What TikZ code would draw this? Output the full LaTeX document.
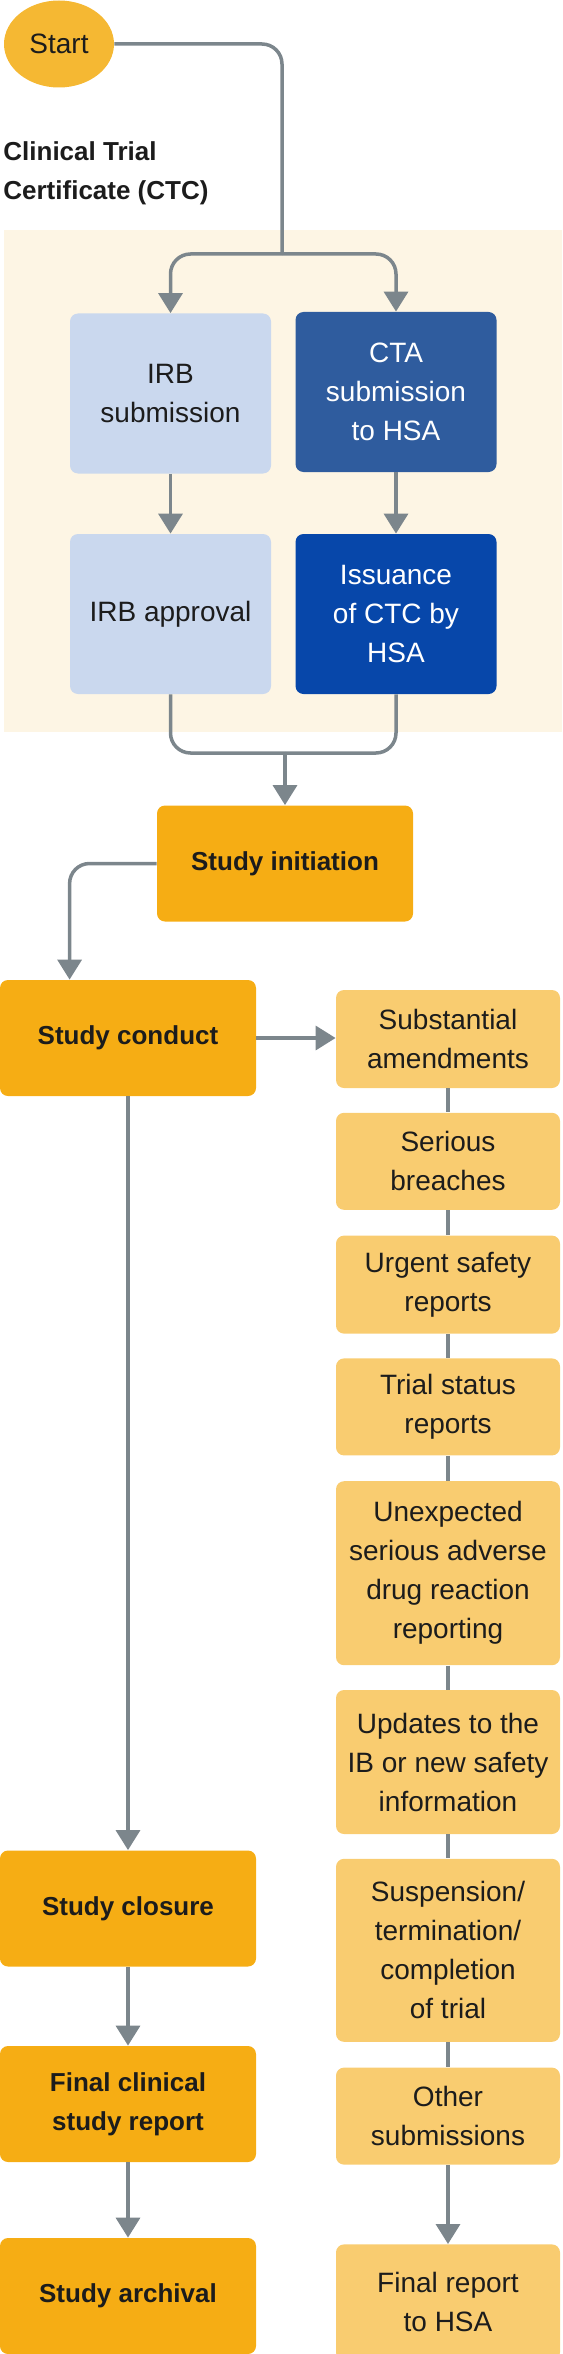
\documentclass[tikz,border=0pt]{standalone}
\usepackage{fontspec}
\setmainfont{Liberation Sans}
\usetikzlibrary{positioning}
\usetikzlibrary{shapes.geometric}
\usetikzlibrary{arrows.meta}
\definecolor{text colour}{HTML}{1C1C1C}
\definecolor{line colour}{HTML}{7C868C}
\definecolor{start colour}{HTML}{F5B833}
\definecolor{stage colour}{HTML}{F6AD14}
\definecolor{report colour}{HTML}{F9CC70}
\definecolor{ctc colour}{HTML}{FDF5E4}
\definecolor{irb colour}{HTML}{CAD8EE}
\definecolor{cta colour}{HTML}{2F5C9E}
\definecolor{issue colour}{HTML}{0747AA}
\tikzset{
    % Filled triangle tips, as in the flow chart
    >={Triangle[width=12pt,length=10pt]},
    ctc fill/.style={fill=ctc colour},
    flow/.style={draw=line colour, line width=1.75pt, rounded corners=10pt},
    every node/.style={align=center, text=text colour},
}

\begin{document}
\begin{tikzpicture}[
    box/.style={rectangle, rounded corners=4pt, inner sep=2pt,
        font=\fontsize{14}{19.5}\selectfont},
    stage/.style={box, fill=stage colour, minimum width=128pt,
        minimum height=58pt, font=\fontsize{13}{19.5}\selectfont\bfseries},
    report/.style={box, fill=report colour, minimum width=112pt},
    irb/.style={box, fill=irb colour, minimum width=100.5pt,
        minimum height=80pt},
    hsa/.style={irb, fill=#1, text=white},
    x=0.5pt, y=-0.5pt,
]

\useasboundingbox (0,0) rectangle (562,2354);
\path [ctc fill] (4,230) rectangle (562,732);

\node (start) [ellipse, fill=start colour, minimum width=55pt,
    minimum height=43.5pt, inner sep=0,
    font=\fontsize{14}{19.5}\selectfont] at (59,44) {Start};
\node (ctc title) [anchor=west, align=left, inner sep=0,
    font=\fontsize{13}{19.5}\selectfont\bfseries] at (3,173.5)
    {Clinical Trial\\Certificate (CTC)};

\path
    (170.5,393.5) node (irb sub) [irb] {IRB\\submission}
    +(0,220.5) node (irb appr) [irb] {IRB approval}
    (396,392) node (cta sub) [hsa=cta colour] {CTA\\submission\\to HSA}
    +(0,222) node (issuance) [hsa=issue colour] {Issuance\\of CTC by\\HSA}
    (285,863.5) node (init) [stage] {Study initiation};

\path
    (128,1038) node (conduct) [stage] {Study conduct}
    (128,1908.5) node (closure) [stage] {Study closure}
    (128,2104) node (final csr) [stage] {Final clinical\\study report}
    (128,2296) node (archival) [stage] {Study archival};

% Reporting obligations during the study
\node (sa) [report, minimum height=49pt] at (448,1039)
    {Substantial\\amendments};
\node (sb) [report, minimum height=48.5pt, below=12pt of sa]
    {Serious\\breaches};
\node (usr) [report, minimum height=49pt, below=12.5pt of sb]
    {Urgent safety\\reports};
\node (tsr) [report, minimum height=48.5pt, below=12pt of usr]
    {Trial status\\reports};
\node (unx) [report, minimum height=92pt, below=12.5pt of tsr]
    {Unexpected\\serious adverse\\drug reaction\\reporting};
\node (upd) [report, minimum height=72pt, below=12pt of unx]
    {Updates to the\\IB or new safety\\information};
\node (sus) [report, minimum height=91.5pt, below=12pt of upd]
    {Suspension/\\termination/\\completion\\of trial};
\node (oth) [report, minimum height=48.5pt, below=12.5pt of sus]
    {Other\\submissions};
\node (fin) [report, minimum height=58pt, below=39.5pt of oth]
    {Final report\\to HSA};

\coordinate (split) at (282,254);
\coordinate (merge) at (285,753);

\draw [flow] (start) -| (split);
\draw [flow, ->] (split) -| (irb sub);
\draw [flow, ->] (split) -| (cta sub);
\draw [flow, ->] (irb sub) -- (irb appr);
\draw [flow, ->] (cta sub) -- (issuance);
\draw [flow] (irb appr) |- (merge);
\draw [flow] (issuance) |- (merge);
\draw [flow, ->] (merge) -- (init);
\draw [flow, ->] (init) -| ([xshift=35pt]conduct.north west);
\draw [flow, ->] (conduct.east) -- (conduct.east -| sa.west);
\draw [flow, ->] (conduct) -- (closure);
\draw [flow, ->] (closure) -- (final csr);
\draw [flow, ->] (final csr) -- (archival);

\foreach \a/\b in {sa/sb, sb/usr, usr/tsr, tsr/unx, unx/upd, upd/sus, sus/oth}
    \draw [flow] (\a) -- (\b);
\draw [flow, ->] (oth) -- (fin);

\end{tikzpicture}
\end{document}
